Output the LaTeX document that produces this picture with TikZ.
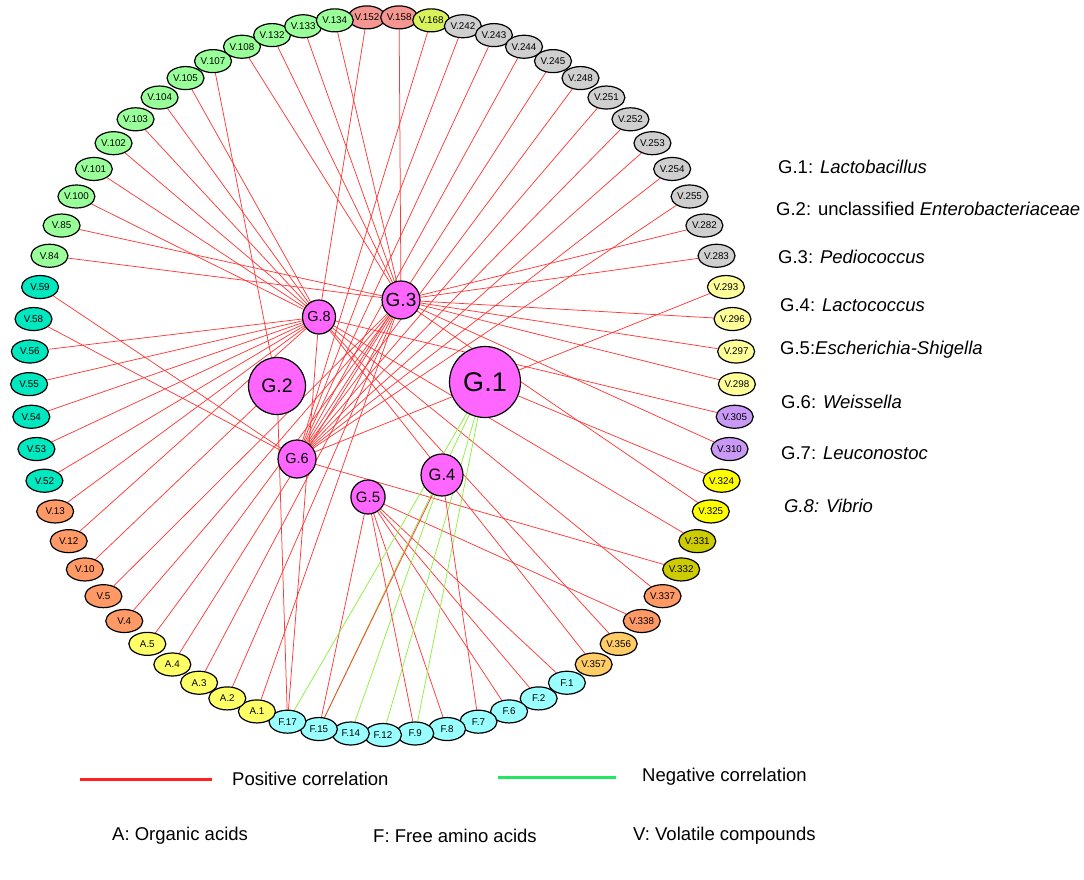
\documentclass[tikz,border=0pt]{standalone}
\usepackage{fontspec}
\setmainfont{Liberation Sans}
\usetikzlibrary{shapes.geometric,backgrounds}
\definecolor{vgreen}{HTML}{99FF99}
\definecolor{vsalmon}{HTML}{F59690}
\definecolor{vlime}{HTML}{D8F25C}
\definecolor{vgray}{HTML}{CFCFCF}
\definecolor{vpale}{HTML}{FFFF99}
\definecolor{vlilac}{HTML}{C899F5}
\definecolor{vyellow}{HTML}{FFFF00}
\definecolor{volive}{HTML}{CCCC00}
\definecolor{vorange}{HTML}{FF9966}
\definecolor{vpeach}{HTML}{FFCC66}
\definecolor{vteal}{HTML}{00E8C0}
\definecolor{fcyan}{HTML}{99FFFF}
\definecolor{ayellow}{HTML}{FFFF66}
\definecolor{hubpink}{HTML}{FF66FF}
\definecolor{posred}{HTML}{FF3A3A}
\definecolor{neggreen}{HTML}{8CF03C}
\definecolor{legred}{HTML}{FF2020}
\definecolor{leggreen}{HTML}{20E860}
\newcommand{\keyfont}{\fontsize{18.5}{22}\selectfont}
\begin{document}
\begin{tikzpicture}[x=1pt,y=-1pt,
    ring/.style={shape=ellipse,draw=black,line width=1.2pt,minimum width=37pt,minimum height=23pt,inner sep=0pt,font=\fontsize{9.8}{11}\selectfont},
    hub/.style={shape=circle,draw=black,line width=1.2pt,fill=hubpink,inner sep=0pt},
    poscor/.style={draw=posred,line width=0.75pt},
    negcor/.style={draw=neggreen,line width=0.75pt},
    keytext/.style={anchor=west,inner sep=0pt,font=\keyfont}]
        \useasboundingbox (0,0) rectangle (1084,880);
        % outer ring of compounds
        \begin{scope}[shift={(383,376)}]
        \node[ring,fill=vsalmon] (v152) at (92.61:354pt and 359pt) {V.152};
        \node[ring,fill=vsalmon] (v158) at (87.39:354pt and 359pt) {V.158};
        \node[ring,fill=vlime] (v168) at (82.17:354pt and 359pt) {V.168};
        \node[ring,fill=vgray] (v242) at (76.96:354pt and 359pt) {V.242};
        \node[ring,fill=vgray] (v243) at (71.74:354pt and 359pt) {V.243};
        \node[ring,fill=vgray] (v244) at (66.52:354pt and 359pt) {V.244};
        \node[ring,fill=vgray] (v245) at (61.30:354pt and 359pt) {V.245};
        \node[ring,fill=vgray] (v248) at (56.09:354pt and 359pt) {V.248};
        \node[ring,fill=vgray] (v251) at (50.87:354pt and 359pt) {V.251};
        \node[ring,fill=vgray] (v252) at (45.65:354pt and 359pt) {V.252};
        \node[ring,fill=vgray] (v253) at (40.43:354pt and 359pt) {V.253};
        \node[ring,fill=vgray] (v254) at (35.22:354pt and 359pt) {V.254};
        \node[ring,fill=vgray] (v255) at (30.00:354pt and 359pt) {V.255};
        \node[ring,fill=vgray] (v282) at (24.78:354pt and 359pt) {V.282};
        \node[ring,fill=vgray] (v283) at (19.57:354pt and 359pt) {V.283};
        \node[ring,fill=vpale] (v293) at (14.35:354pt and 359pt) {V.293};
        \node[ring,fill=vpale] (v296) at (9.13:354pt and 359pt) {V.296};
        \node[ring,fill=vpale] (v297) at (3.91:354pt and 359pt) {V.297};
        \node[ring,fill=vpale] (v298) at (-1.30:354pt and 359pt) {V.298};
        \node[ring,fill=vlilac] (v305) at (-6.52:354pt and 359pt) {V.305};
        \node[ring,fill=vlilac] (v310) at (-11.74:354pt and 359pt) {V.310};
        \node[ring,fill=vyellow] (v324) at (-16.96:354pt and 359pt) {V.324};
        \node[ring,fill=vyellow] (v325) at (-22.17:354pt and 359pt) {V.325};
        \node[ring,fill=volive] (v331) at (-27.39:354pt and 359pt) {V.331};
        \node[ring,fill=volive] (v332) at (-32.61:354pt and 359pt) {V.332};
        \node[ring,fill=vorange] (v337) at (-37.83:354pt and 359pt) {V.337};
        \node[ring,fill=vorange] (v338) at (-43.04:354pt and 359pt) {V.338};
        \node[ring,fill=vpeach] (v356) at (-48.26:354pt and 359pt) {V.356};
        \node[ring,fill=vpeach] (v357) at (-53.48:354pt and 359pt) {V.357};
        \node[ring,fill=fcyan] (f1) at (-58.70:354pt and 359pt) {F.1};
        \node[ring,fill=fcyan] (f2) at (-63.91:354pt and 359pt) {F.2};
        \node[ring,fill=fcyan] (f6) at (-69.13:354pt and 359pt) {F.6};
        \node[ring,fill=fcyan] (f7) at (-74.35:354pt and 359pt) {F.7};
        \node[ring,fill=fcyan] (f8) at (-79.57:354pt and 359pt) {F.8};
        \node[ring,fill=fcyan] (f9) at (-84.78:354pt and 359pt) {F.9};
        \node[ring,fill=fcyan] (f12) at (-90.00:354pt and 359pt) {F.12};
        \node[ring,fill=fcyan] (f14) at (-95.22:354pt and 359pt) {F.14};
        \node[ring,fill=fcyan] (f15) at (-100.43:354pt and 359pt) {F.15};
        \node[ring,fill=fcyan] (f17) at (-105.65:354pt and 359pt) {F.17};
        \node[ring,fill=ayellow] (a1) at (-110.87:354pt and 359pt) {A.1};
        \node[ring,fill=ayellow] (a2) at (-116.09:354pt and 359pt) {A.2};
        \node[ring,fill=ayellow] (a3) at (-121.30:354pt and 359pt) {A.3};
        \node[ring,fill=ayellow] (a4) at (-126.52:354pt and 359pt) {A.4};
        \node[ring,fill=ayellow] (a5) at (-131.74:354pt and 359pt) {A.5};
        \node[ring,fill=vorange] (v4) at (-136.96:354pt and 359pt) {V.4};
        \node[ring,fill=vorange] (v5) at (-142.17:354pt and 359pt) {V.5};
        \node[ring,fill=vorange] (v10) at (-147.39:354pt and 359pt) {V.10};
        \node[ring,fill=vorange] (v12) at (-152.61:354pt and 359pt) {V.12};
        \node[ring,fill=vorange] (v13) at (-157.83:354pt and 359pt) {V.13};
        \node[ring,fill=vteal] (v52) at (-163.04:354pt and 359pt) {V.52};
        \node[ring,fill=vteal] (v53) at (-168.26:354pt and 359pt) {V.53};
        \node[ring,fill=vteal] (v54) at (-173.48:354pt and 359pt) {V.54};
        \node[ring,fill=vteal] (v55) at (-178.70:354pt and 359pt) {V.55};
        \node[ring,fill=vteal] (v56) at (176.09:354pt and 359pt) {V.56};
        \node[ring,fill=vteal] (v58) at (170.87:354pt and 359pt) {V.58};
        \node[ring,fill=vteal] (v59) at (165.65:354pt and 359pt) {V.59};
        \node[ring,fill=vgreen] (v84) at (160.43:354pt and 359pt) {V.84};
        \node[ring,fill=vgreen] (v85) at (155.22:354pt and 359pt) {V.85};
        \node[ring,fill=vgreen] (v100) at (150.00:354pt and 359pt) {V.100};
        \node[ring,fill=vgreen] (v101) at (144.78:354pt and 359pt) {V.101};
        \node[ring,fill=vgreen] (v102) at (139.57:354pt and 359pt) {V.102};
        \node[ring,fill=vgreen] (v103) at (134.35:354pt and 359pt) {V.103};
        \node[ring,fill=vgreen] (v104) at (129.13:354pt and 359pt) {V.104};
        \node[ring,fill=vgreen] (v105) at (123.91:354pt and 359pt) {V.105};
        \node[ring,fill=vgreen] (v107) at (118.70:354pt and 359pt) {V.107};
        \node[ring,fill=vgreen] (v108) at (113.48:354pt and 359pt) {V.108};
        \node[ring,fill=vgreen] (v132) at (108.26:354pt and 359pt) {V.132};
        \node[ring,fill=vgreen] (v133) at (103.04:354pt and 359pt) {V.133};
        \node[ring,fill=vgreen] (v134) at (97.83:354pt and 359pt) {V.134};
        \end{scope}
        % genera in the middle
        \node[hub,minimum size=71pt,font=\fontsize{27}{30}\selectfont] (g1) at (485,382) {G.1};
        \node[hub,minimum size=57pt,font=\fontsize{19.5}{22}\selectfont] (g2) at (277,386) {G.2};
        \node[hub,minimum size=38pt,font=\fontsize{19}{22}\selectfont] (g3) at (401,300) {G.3};
        \node[hub,minimum size=42pt,font=\fontsize{16.5}{19}\selectfont] (g4) at (442,475) {G.4};
        \node[hub,shape=ellipse,minimum width=28pt,minimum height=34pt,font=\fontsize{15}{17}\selectfont] (g5) at (368,497) {G.5};
        \node[hub,minimum size=38pt,font=\fontsize{14.5}{17}\selectfont] (g6) at (297,459) {G.6};
        \node[hub,shape=ellipse,minimum width=28pt,minimum height=34pt,font=\fontsize{14.5}{17}\selectfont] (g8) at (319,317) {G.8};
        \begin{pgfonlayer}{background}
        % G.3
        \path (g3) edge[poscor] (v84);
        \path (g3) edge[poscor] (v85);
        \path (g3) edge[poscor] (v108);
        \path (g3) edge[poscor] (v132);
        \path (g3) edge[poscor] (v133);
        \path (g3) edge[poscor] (v134);
        \path (g3) edge[poscor] (v158);
        \path (g3) edge[poscor] (v282);
        \path (g3) edge[poscor] (v283);
        \path (g3) edge[poscor] (v296);
        \path (g3) edge[poscor] (v297);
        \path (g3) edge[poscor] (v298);
        \path (g3) edge[poscor] (v310);
        \path (g3) edge[poscor] (v325);
        \path (g3) edge[poscor] (a1);
        \path (g3) edge[poscor] (a2);
        \path (g3) edge[poscor] (a3);
        \path (g3) edge[poscor] (a4);
        \path (g3) edge[poscor] (a5);
        \path (g3) edge[poscor] (v4);
        \path (g3) edge[poscor] (v5);
        % G.8
        \path (g8) edge[poscor] (v100);
        \path (g8) edge[poscor] (v101);
        \path (g8) edge[poscor] (v102);
        \path (g8) edge[poscor] (v103);
        \path (g8) edge[poscor] (v104);
        \path (g8) edge[poscor] (v105);
        \path (g8) edge[poscor] (v152);
        \path (g8) edge[poscor] (v56);
        \path (g8) edge[poscor] (v55);
        \path (g8) edge[poscor] (v54);
        \path (g8) edge[poscor] (v53);
        \path (g8) edge[poscor] (v52);
        \path (g8) edge[poscor] (v13);
        \path (g8) edge[poscor] (v12);
        \path (g8) edge[poscor] (v305);
        \path (g8) edge[poscor] (v331);
        \path (g8) edge[poscor] (v337);
        \path (g8) edge[poscor] (v356);
        \path (g8) edge[poscor] (v357);
        \path (g8) edge[poscor] (f17);
        % G.6
        \path (g6) edge[poscor] (v168);
        \path (g6) edge[poscor] (v242);
        \path (g6) edge[poscor] (v243);
        \path (g6) edge[poscor] (v244);
        \path (g6) edge[poscor] (v245);
        \path (g6) edge[poscor] (v248);
        \path (g6) edge[poscor] (v251);
        \path (g6) edge[poscor] (v252);
        \path (g6) edge[poscor] (v253);
        \path (g6) edge[poscor] (v254);
        \path (g6) edge[poscor] (v255);
        \path (g6) edge[poscor] (v293);
        \path (g6) edge[poscor] (v58);
        \path (g6) edge[poscor] (v59);
        \path (g6) edge[poscor] (v332);
        % G.2
        \path (g2) edge[poscor] (v107);
        \path (g2) edge[poscor] (v10);
        \path (g2) edge[poscor] (f17);
        % G.5
        \path (g5) edge[poscor] (f15);
        \path (g5) edge[poscor] (f9);
        \path (g5) edge[poscor] (f8);
        \path (g5) edge[poscor] (f6);
        \path (g5) edge[poscor] (f2);
        \path (g5) edge[poscor] (f1);
        \path (g5) edge[poscor] (v338);
        % G.1 and G.4
        \path (g1) edge[poscor] (v324);
        \path (g1) edge[negcor] (f17);
        \path (g1) edge[negcor] (f15);
        \path (g1) edge[negcor] (f12);
        \path (g1) edge[negcor] (f9);
        \path (g4) edge[negcor] (f14);
        \path (g4) edge[poscor] (f15);
        \path (g4) edge[poscor] (f7);
        \end{pgfonlayer}
        % key on the right
        \node[keytext] (k1) at (778,167) {G.1: \textit{Lactobacillus}};
        \node[keytext] (k2) at (776,209) {G.2: unclassified \textit{Enterobacteriaceae}};
        \node[keytext] (k3) at (778,257) {G.3: \textit{Pediococcus}};
        \node[keytext] (k4) at (780,305) {G.4: \textit{Lactococcus}};
        \node[keytext] (k5) at (780,350) {G.5:\textit{Escherichia-Shigella}};
        \node[keytext] (k6) at (781,402) {G.6: \textit{Weissella}};
        \node[keytext] (k7) at (781,453) {G.7: \textit{Leuconostoc}};
        \node[keytext] (k8) at (784,506) {\textit{G.8: Vibrio}};
        % key at the bottom
        \coordinate (posa) at (80,779);
        \coordinate (posb) at (212,779);
        \draw[legred,line width=3pt] (posa) -- (posb);
        \node[keytext] (postext) at (232,779) {Positive correlation};
        \coordinate (nega) at (498,777);
        \coordinate (negb) at (616,777);
        \draw[leggreen,line width=3pt] (nega) -- (negb);
        \node[keytext] (negtext) at (642,777) {Negative correlation};
        \node[keytext] (atext) at (112,836) {A: Organic acids};
        \node[keytext] (ftext) at (373,836) {F: Free amino acids};
        \node[keytext] (vtext) at (633,836) {V: Volatile compounds};
\end{tikzpicture}
\end{document}
